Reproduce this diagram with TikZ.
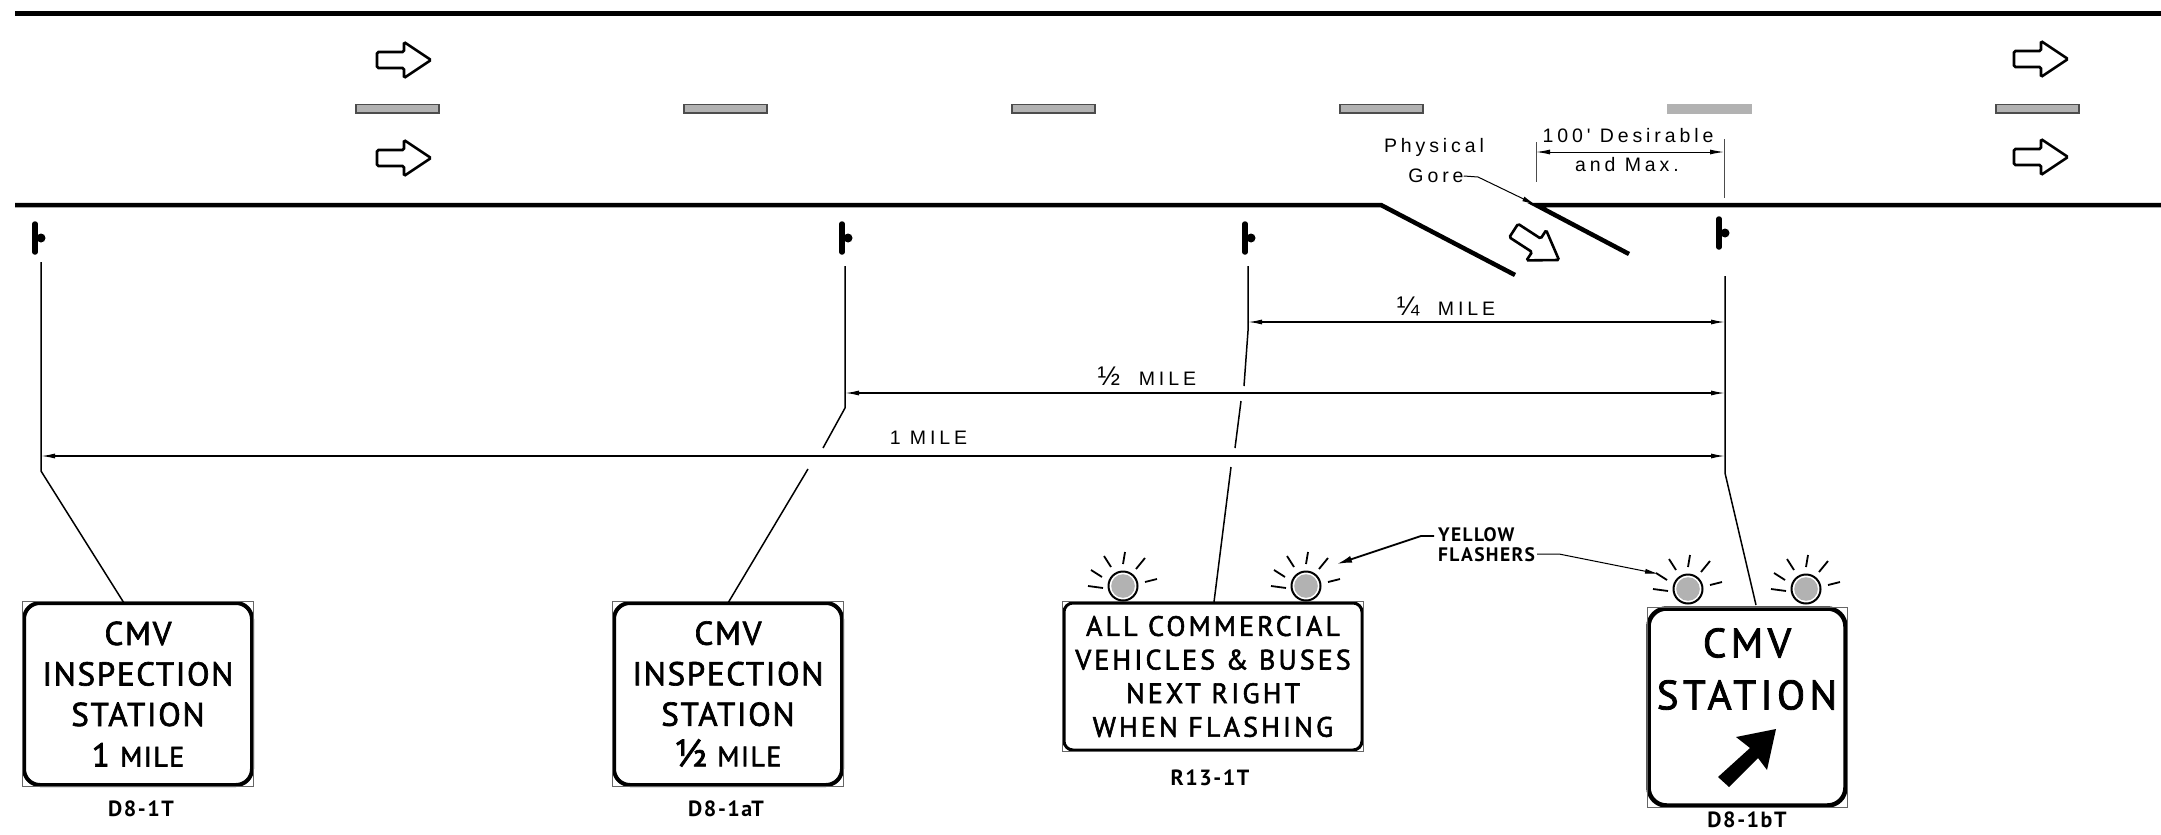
\documentclass[tikz,border=0pt]{standalone}
\usepackage{fontspec}
\usetikzlibrary{positioning, arrows.meta}
\newfontfamily\signfont[LetterSpace=5,FakeBold=2]{PT Sans}
\newfontfamily\widesignfont[LetterSpace=11,FakeBold=2]{PT Sans}
\newfontfamily\codefont[LetterSpace=7]{PT Sans}
\newfontfamily\notefont[LetterSpace=20]{Liberation Sans}
\definecolor{stripegray}{HTML}{B2B2B2}
\newcommand{\notefrac}[1]{{\fontsize{27}{27}\selectfont #1}}
\tikzset{
>={Latex[length=14pt,width=5pt]},
edgeline/.style={line width=4.5pt}, % road edges and ramp
leader/.style={line width=1.5pt},
dimline/.style={<->,line width=1.3pt},
extline/.style={line width=1pt, draw=black!70},
note/.style={font=\notefont\fontsize{19.5}{29}\selectfont, inner sep=0pt, align=center},
signbox/.style={draw, line width=4pt, rounded corners=16pt, inner sep=0pt, outer sep=0pt, align=center},
signedge/.style={line width=.8pt, draw=black!60},
signcode/.style={font=\codefont\bfseries\fontsize{22}{24}\selectfont, inner sep=0pt},
flasher/.style={circle, draw, line width=2pt, fill=white, inner sep=0pt, minimum size=29pt,
  path picture={\fill[stripegray] (path picture bounding box.center) circle (11.8pt);}},
pics/lanearrow/.style={code={
  \draw[line width=2.6pt, rounded corners=1.5pt] (0,0) -- (-27,-18) -- (-27,-8) -- (-54,-8) -- (-54,8) -- (-27,8) -- (-27,18) -- cycle;
}},
pics/postmark/.style={code={
  \draw[line width=5.5pt, line cap=round] (0,-14) -- (0,14);
  \fill (6,0) circle (4.5pt);
}},
pics/rays/.style={code={
  \draw[line width=1.8pt] (-19,-30) -- (-12,-19) (2,-34) -- (0,-22) (22,-28) -- (13,-17)
    (34,-7) -- (22,-4) (-35,0) -- (-20,2) (-32,-16) -- (-21,-9);
}},
}
\begin{document}
\begin{tikzpicture}[x=1pt,y=-1pt]
    \useasboundingbox (0,0) rectangle (2161,835);

    % road
    \draw[line width=5pt] (15,13) -- (2161,13);
    \coordinate (goreleft) at (1381,205);
    \coordinate (goreright) at (1536,205);
    \draw[edgeline] (15,205) -- (goreleft) -- (1515,275);
    \draw[edgeline] (1629,254) -- (goreright) -- (2161,205);
    \foreach \x/\shade in {356/black!70, 684/black!70, 1012/black!70, 1340/black!70, 1668/stripegray, 1996/black!70}
      \draw[draw=\shade, fill=stripegray, line width=1.3pt] (\x,104.5) rectangle ++(83,8.5);
    \foreach \x/\y in {431/60, 431/158, 2068/59, 2068/157}
      \pic at (\x,\y) {lanearrow};
    \pic[rotate=-33] at (1559,260) {lanearrow};

    % sign locations
    \pic at (35,238) {postmark};
    \pic at (842,238) {postmark};
    \pic at (1245,238) {postmark};
    \pic at (1719,233) {postmark};

    % signs
    \node[signbox, minimum width=228pt, minimum height=182pt, font=\signfont\fontsize{33}{40.5}\selectfont] (signa) at (138,694)
      {CMV\\INSPECTION\\STATION\\1 {\fontsize{28}{28}\selectfont MILE}};
    \node[signbox, minimum width=228pt, minimum height=182pt, font=\signfont\fontsize{33}{40.5}\selectfont] (signb) at (728,694)
      {CMV\\INSPECTION\\STATION\\{\fontsize{38}{38}\selectfont ½} {\fontsize{28}{28}\selectfont MILE}};
    \node[signbox, line width=3pt, rounded corners=9pt, minimum width=298pt, minimum height=147pt, font=\widesignfont\fontsize{28}{33.6}\selectfont] (signc) at (1213,676.5)
      {ALL COMMERCIAL\\VEHICLES \& BUSES\\NEXT RIGHT\\WHEN FLASHING};
    \node[signbox, line width=4.5pt, rounded corners=18pt, minimum width=197pt, minimum height=197pt] (signd) at (1747,707) {};
    \node[font=\widesignfont\fontsize{41}{52}\selectfont, align=center, inner sep=0pt] (signdtext) at (1747,669) {CMV\\STATION};
    \fill (1776,729) -- (1736,737) -- (1750,748) -- (1718,777) -- (1729,787) -- (1758,758) -- (1767,770) -- cycle;
    \foreach \s in {signa, signb, signc, signd}
      \draw[signedge] ([shift={(-1.5,-1.5)}]\s.north west) rectangle ([shift={(1.5,1.5)}]\s.south east);

    \node[signcode] (codea) at (141,809) {D8-1T};
    \node[signcode] (codeb) at (726,809) {D8-1aT};
    \node[signcode] (codec) at (1210,778) {R13-1T};
    \node[signcode] (coded) at (1747,820) {D8-1bT};

    % flashers
    \foreach \name/\x/\y in {flasha/1123/586, flashb/1306/586, flashc/1688/589, flashd/1806/589} {
      \node[flasher] (\name) at (\x,\y) {};
      \pic at (\x,\y) {rays};
    }
    \node[font=\codefont\bfseries\fontsize{19.5}{20}\selectfont, align=left, inner sep=0pt, anchor=west] (flashnote) at (1438,545) {YELLOW\\FLASHERS};
    \coordinate (flashtipb) at (1337,564);
    \coordinate (flashtipc) at (1659,574);
    \draw[->, line width=1.8pt, >={Latex[length=15pt,width=7pt]}] (1434,536) -- (1421,536) -- (flashtipb);
    \draw[->, line width=1pt] (1537,554) -- (1559,554) -- (flashtipc);

    % leaders from the sign locations down to the panels
    \coordinate (lega) at (41,262);
    \coordinate (legb) at (845,266);
    \coordinate (legc) at (1248,266);
    \coordinate (legd) at (1725,276);
    \draw[leader] (lega) -- (41,471) -- (signa.north -| 124,0);
    \draw[leader] (legb) -- (845,408) -- (823,448);
    \draw[leader] (808,469) -- (signb.north);
    \draw[leader] (legc) -- (1248,331) -- (1244,386);
    \draw[leader] (1241,401) -- (1235,448);
    \draw[leader] (1231,467) -- (1214,602);
    \draw[leader] (legd) -- (1725,473) -- (1756,605);

    % distances
    \draw[dimline] (41,456) -- node[note, pos=.527, yshift=18pt] (milea) {1 MILE} (1725,456);
    \draw[dimline] (845,393) -- node[note, pos=.343, yshift=17pt] (mileb) {\notefrac{½}\ \ MILE} (1725,393);
    \draw[dimline] (1248,322) -- node[note, pos=.415, yshift=16pt] (milec) {\notefrac{¼}\ \ MILE} (1725,322);

    % gore
    \draw[extline] (1536,142) -- (1536,182);
    \draw[extline] (1724,139) -- (1724,198);
    \draw[<->, line width=1pt] (1536,152) -- (1724,152);
    \node[note] (desirable) at (1628,136) {100' Desirable};
    \node[note] (maxnote) at (1627,165) {and Max.};
    \node[note] (physical) at (1434,147) {Physical};
    \node[note] (gorenote) at (1436,176) {Gore};
    \draw[->, line width=1pt] (gorenote.east) -- (1478,177) -- (goreright);
  \end{tikzpicture}
\end{document}
